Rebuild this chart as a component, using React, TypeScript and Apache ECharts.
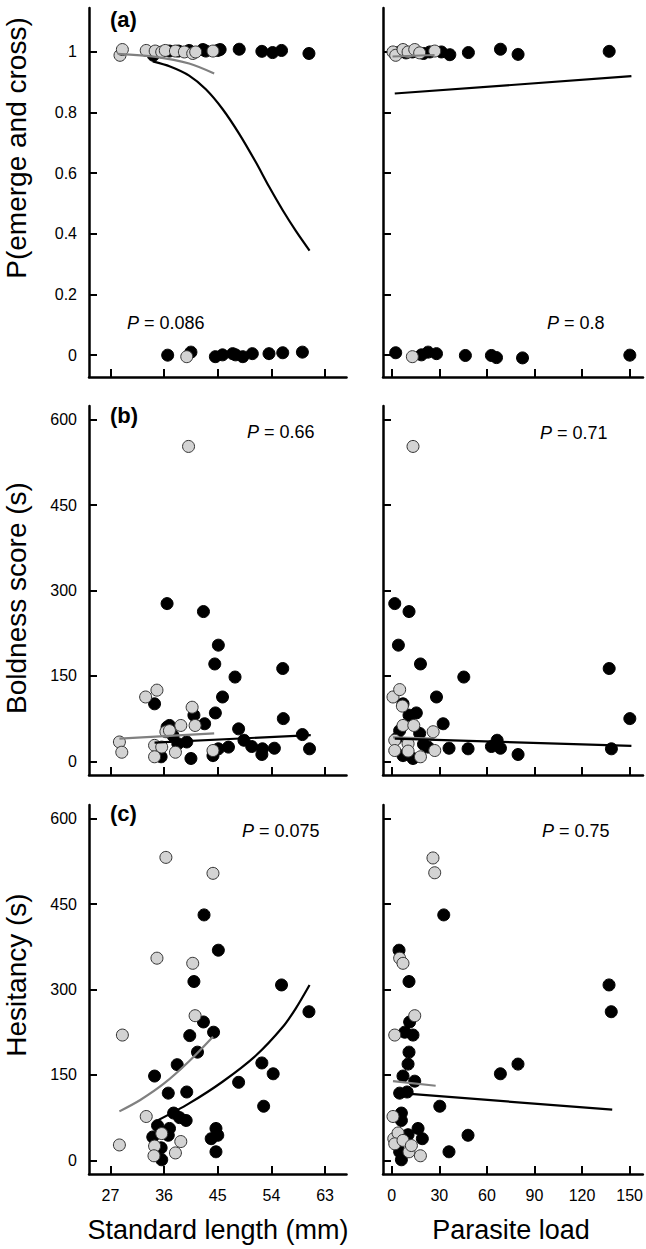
import React, { useEffect, useRef } from "react";
import * as echarts from "echarts";

// ---------- tick values ----------
const slTicks = [27, 36, 45, 54, 63];
const plTicks = [0, 30, 60, 90, 120, 150];
const probTicks = [0, 0.2, 0.4, 0.6, 0.8, 1];
const secTicks = [0, 150, 300, 450, 600];

// ---------- (a) P(emerge and cross) ----------
const aSLBlack: number[][] = [
  [34.2, 0.989], [36.9, 1.003], [38.4, 1.003], [40.2, 1.005], [42.5, 1.008], [43.0, 1.003],
  [45.0, 1.005], [45.4, 1.008], [48.6, 1.009], [52.4, 1.002], [54.2, 0.998], [55.7, 1.005], [60.3, 0.995],
  [36.6, 0.0], [40.5, 0.01], [44.6, -0.005], [45.8, 0.001], [47.5, 0.005], [48.0, 0.001],
  [49.2, -0.005], [50.8, 0.005], [53.6, 0.005], [55.9, 0.008], [59.2, 0.01],
];
const aSLGrey: number[][] = [
  [28.6, 0.989], [29.0, 1.008], [33.0, 1.005], [34.5, 1.003], [35.6, 1.0], [36.2, 1.005],
  [37.9, 1.003], [39.4, 1.0], [40.8, 0.995], [41.3, 1.0], [44.2, 1.003],
  [39.8, -0.005],
];
const aSLBlackFit: number[][] = [
  [34.1, 0.969], [37.0, 0.952], [40.2, 0.922], [43.0, 0.877], [45.8, 0.812], [48.6, 0.730],
  [51.4, 0.636], [53.6, 0.556], [55.9, 0.478], [58.1, 0.410], [60.4, 0.345],
];
const aSLGreyFit: number[][] = [[28.2, 0.994], [34.6, 0.984], [40.2, 0.962], [44.4, 0.929]];

const aPLBlack: number[][] = [
  [2, 0.995], [5, 1.0], [9, 0.997], [13, 1.0], [20, 0.995], [24, 1.0],
  [31.3, 1.0], [36.6, 0.991], [48.3, 0.998], [68.5, 1.009], [79.6, 0.992], [137.0, 1.002],
  [2.5, 0.008], [18.7, 0.001], [22.9, 0.01], [28.2, 0.005], [46.4, -0.001], [62.8, -0.001],
  [66.0, -0.008], [82.4, -0.009], [150, 0.0],
];
const aPLGrey: number[][] = [
  [0.8, 1.0], [2.5, 0.989], [7.1, 1.008], [10.3, 1.0], [14.5, 1.008], [17.6, 0.997], [27.1, 1.003],
  [13.0, -0.005],
];
const aPLBlackFit: number[][] = [[1.9, 0.863], [151, 0.92]];
const aPLGreyFit: number[][] = [[0.5, 0.985], [27, 0.99]];

// ---------- (b) Boldness score ----------
const bSLBlack: number[][] = [
  [36.5, 277], [42.6, 263], [45.1, 204], [44.5, 171], [47.9, 148], [55.9, 163], [45.8, 113],
  [44.6, 85], [41.0, 81], [42.8, 66], [48.5, 57], [56.0, 75], [34.4, 101], [59.2, 47], [49.4, 37],
  [50.7, 26], [52.5, 22], [52.4, 12], [54.5, 23], [60.4, 22], [46.8, 25], [45.1, 22], [44.2, 10],
  [40.5, 5], [39.8, 34], [38.3, 31], [36.9, 63], [35.5, 8], [37.5, 45], [36.5, 60],
];
const bSLGrey: number[][] = [
  [40.1, 553], [32.9, 113], [34.8, 125], [40.7, 95], [38.8, 63], [41.2, 63], [36.3, 52],
  [28.5, 34], [28.9, 16], [34.4, 28], [35.6, 25], [37.9, 16], [34.4, 8], [44.2, 19], [36.9, 54],
];
const bSLBlackFit: number[][] = [[34.4, 33], [60.6, 46]];
const bSLGreyFit: number[][] = [[28.5, 40], [44.4, 49]];

const bPLBlack: number[][] = [
  [1.9, 277], [10.9, 263], [4.2, 204], [18.1, 171], [45.4, 148], [137, 163], [28.2, 113],
  [15.5, 85], [10.9, 81], [32.4, 66], [150, 75], [7.1, 101], [66.4, 37], [68.5, 23], [62.8, 26],
  [79.6, 12], [48.1, 22], [36.1, 23], [138.4, 22], [22.9, 25], [17.6, 49], [13.4, 5], [5, 54],
  [7.1, 10], [3, 40], [20, 30],
];
const bPLGrey: number[][] = [
  [13.4, 553], [0.8, 113], [5, 126], [6.7, 97], [7.1, 63], [13.9, 63], [26.1, 52],
  [1.9, 37], [1.9, 19], [10.3, 31], [10.3, 18], [18.1, 8], [27.1, 19],
];
const bPLBlackFit: number[][] = [[1.9, 40], [151, 27]];
const bPLGreyFit: number[][] = [[0.8, 42], [27, 40]];

// ---------- (c) Hesitancy ----------
const cSLBlack: number[][] = [
  [42.7, 431], [45.1, 369], [41.0, 314], [42.6, 243], [44.3, 225], [40.3, 219], [41.6, 190],
  [38.2, 168], [34.4, 148], [36.7, 118], [39.8, 120], [48.5, 137], [52.4, 171], [54.3, 152],
  [52.7, 95], [55.7, 308], [60.3, 261], [37.6, 83], [39.7, 70], [38.6, 75], [34.9, 61],
  [36.9, 56], [34.1, 41], [36.7, 44], [44.7, 56], [45.0, 44], [43.9, 38], [44.7, 15],
  [35.5, 22], [35.6, 1],
];
const cSLGrey: number[][] = [
  [36.3, 532], [44.2, 504], [34.8, 355], [40.8, 346], [41.2, 254], [29.0, 220], [33.0, 77],
  [28.5, 27], [34.4, 25], [34.3, 8], [35.6, 47], [38.8, 33], [37.9, 13],
];
const cSLBlackFit: number[][] = [
  [34.9, 70], [40.2, 100], [45.8, 138], [51.4, 184], [55.9, 234], [58.1, 267], [60.4, 308],
];
const cSLGreyFit: number[][] = [[28.5, 86], [32, 106], [36, 135], [40.2, 174], [44.2, 217]];

const cPLBlack: number[][] = [
  [32.8, 431], [4.6, 369], [10.9, 314], [11.3, 243], [13.4, 220], [8.2, 225], [10.9, 190],
  [10.3, 169], [7.1, 148], [5.0, 118], [9.7, 120], [14.5, 139], [68.5, 152], [79.6, 169],
  [30.3, 95], [137, 308], [138.4, 261], [6.1, 83], [6.1, 70], [16.6, 56], [19.3, 38],
  [48.1, 44], [36.1, 15], [10.3, 45], [5, 15], [6.1, 1],
];
const cPLGrey: number[][] = [
  [26.0, 531], [27.1, 505], [5.0, 355], [7.1, 346], [14.5, 254], [1.9, 220], [0.8, 77],
  [1.3, 38], [4.0, 48], [1.9, 29], [7.1, 35], [10.9, 15], [18.1, 8], [12.4, 26],
];
const cPLBlackFit: number[][] = [[9.7, 117], [139, 89]];
const cPLGreyFit: number[][] = [[0.8, 139], [27.7, 131]];

// ---------- texts ----------
const yTitles = ["P(emerge and cross)", "Boldness score (s)", "Hesitancy (s)"];
const xTitles = ["Standard length (mm)", "Parasite load"];
const panelLabels = ["(a)", "(b)", "(c)"];
const pValues = ["0.086", "0.8", "0.66", "0.71", "0.075", "0.75"];

const FONT = "'Liberation Sans', Arial, Helvetica, sans-serif";

export default function App() {
  const ref = useRef<HTMLDivElement>(null);

  useEffect(() => {
    if (!ref.current) return;
    const chart = echarts.init(ref.current, null, { renderer: "svg" });

    const rowTop = [8, 406, 805];
    const rowH = 369;
    const colLeft = [89, 383];
    const colW = [257.5, 260];

    const grids: any[] = [];
    const xAxes: any[] = [];
    const yAxes: any[] = [];
    const series: any[] = [];

    const panels = [
      [aSLBlack, aSLGrey, aSLBlackFit, aSLGreyFit],
      [aPLBlack, aPLGrey, aPLBlackFit, aPLGreyFit],
      [bSLBlack, bSLGrey, bSLBlackFit, bSLGreyFit],
      [bPLBlack, bPLGrey, bPLBlackFit, bPLGreyFit],
      [cSLBlack, cSLGrey, cSLBlackFit, cSLGreyFit],
      [cPLBlack, cPLGrey, cPLBlackFit, cPLGreyFit],
    ];

    const lineStyle = { color: "#000", width: 2.5 };

    for (let i = 0; i < 6; i++) {
      const row = Math.floor(i / 2);
      const col = i % 2;
      grids.push({ left: colLeft[col], top: rowTop[row], width: colW[col], height: rowH });
      const xt = col === 0 ? slTicks : plTicks;
      xAxes.push({
        gridIndex: i,
        type: "value",
        min: col === 0 ? 23.4 : -5.5,
        max: col === 0 ? 66.6 : 158.3,
        axisLine: { show: true, onZero: false, lineStyle },
        axisTick: { show: true, inside: true, length: 8, lineStyle: { color: "#000", width: 2 }, customValues: xt },
        axisLabel: {
          show: row === 2,
          customValues: xt,
          fontSize: 16,
          fontFamily: FONT,
          color: "#000",
          margin: 13,
          formatter: (v: number) => String(v),
        },
        splitLine: { show: false },
      });
      const yt = row === 0 ? probTicks : secTicks;
      yAxes.push({
        gridIndex: i,
        type: "value",
        min: row === 0 ? -0.072 : -24,
        max: row === 0 ? 1.145 : 624,
        axisLine: { show: true, onZero: false, lineStyle },
        axisTick: { show: true, inside: true, length: 8, lineStyle: { color: "#000", width: 2 }, customValues: yt },
        axisLabel: {
          show: col === 0,
          customValues: yt,
          fontSize: 16,
          fontFamily: FONT,
          color: "#000",
          margin: 12,
          formatter: (v: number) => String(v),
        },
        splitLine: { show: false },
      });
      const [blk, gry, blkFit, gryFit] = panels[i];
      series.push({
        type: "scatter",
        xAxisIndex: i,
        yAxisIndex: i,
        data: blk,
        symbol: "circle",
        symbolSize: 12,
        itemStyle: { color: "#000", borderColor: "#000", borderWidth: 1, opacity: 1 },
      });
      series.push({
        type: "scatter",
        xAxisIndex: i,
        yAxisIndex: i,
        data: gry,
        symbol: "circle",
        symbolSize: 12,
        itemStyle: { color: "#d3d3d3", borderColor: "#333", borderWidth: 1, opacity: 1 },
      });
      series.push({
        type: "line",
        xAxisIndex: i,
        yAxisIndex: i,
        data: gryFit,
        smooth: 0.3,
        showSymbol: false,
        lineStyle: { color: "#808080", width: 2.2 },
      });
      series.push({
        type: "line",
        xAxisIndex: i,
        yAxisIndex: i,
        data: blkFit,
        smooth: 0.3,
        showSymbol: false,
        lineStyle: { color: "#000", width: 2.2 },
      });
    }

    const graphic: any[] = [];
    const yTitleY = [148, 598, 975];
    yTitles.forEach((t, k) => {
      graphic.push({
        type: "text",
        x: 16,
        y: yTitleY[k],
        rotation: Math.PI / 2,
        style: {
          text: t,
          fontSize: 28,
          fontFamily: FONT,
          fill: "#000",
          align: "center",
          verticalAlign: "middle",
          textAlign: "center",
          textVerticalAlign: "middle",
        },
      });
    });
    const xTitleX = [218, 511];
    xTitles.forEach((t, k) => {
      graphic.push({
        type: "text",
        x: xTitleX[k],
        y: 1230,
        style: {
          text: t,
          fontSize: 27,
          fontFamily: FONT,
          fill: "#000",
          align: "center",
          verticalAlign: "middle",
          textAlign: "center",
          textVerticalAlign: "middle",
        },
      });
    });
    const labelY = [19, 415, 813];
    panelLabels.forEach((t, k) => {
      graphic.push({
        type: "text",
        x: 110,
        y: labelY[k],
        style: {
          text: t,
          fontSize: 22,
          fontWeight: "bold",
          fontFamily: FONT,
          fill: "#000",
          align: "left",
          verticalAlign: "middle",
          textAlign: "left",
          textVerticalAlign: "middle",
        },
      });
    });
    const pPos = [
      [127, 323], [547, 323], [247, 432], [540, 433], [242, 831], [542, 831],
    ];
    pValues.forEach((v, k) => {
      graphic.push({
        type: "text",
        x: pPos[k][0],
        y: pPos[k][1],
        style: {
          text: "{i|P} = " + v,
          fontSize: 18,
          fontFamily: FONT,
          fill: "#000",
          align: "left",
          verticalAlign: "middle",
          textAlign: "left",
          textVerticalAlign: "middle",
          rich: { i: { fontStyle: "italic", fontSize: 18, fontFamily: FONT, fill: "#000" } },
        },
      });
    });

    chart.setOption({
      animation: false,
      backgroundColor: "#fff",
      grid: grids,
      xAxis: xAxes,
      yAxis: yAxes,
      series,
      graphic,
    });

    return () => chart.dispose();
  }, []);

  return (
    <div
      ref={ref}
      style={{ position: "fixed", left: 0, top: 0, width: 646, height: 1249, background: "#fff" }}
    />
  );
}
